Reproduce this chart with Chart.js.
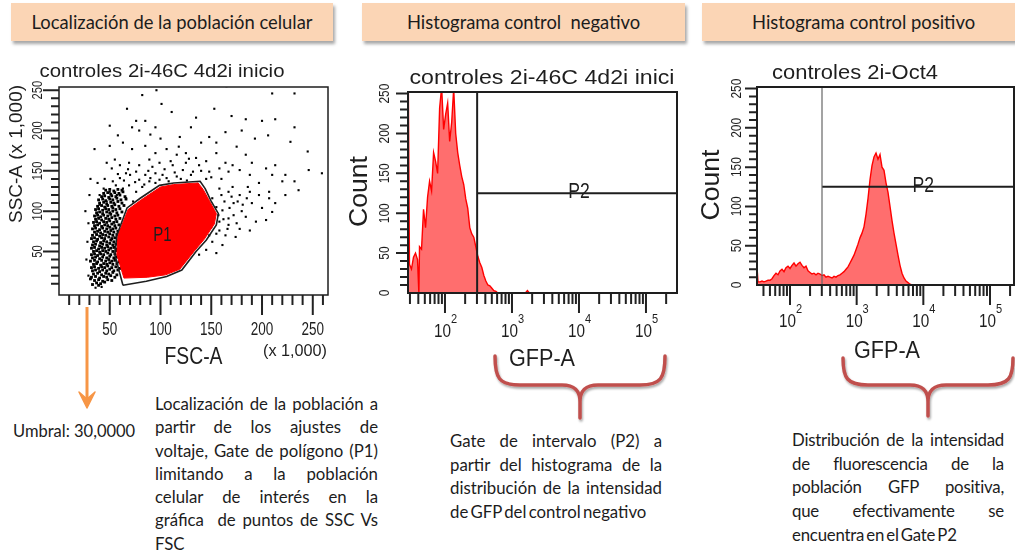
<!DOCTYPE html>
<html lang="es">
<head>
<meta charset="utf-8">
<title>Citometría: controles GFP</title>
<script src="https://cdn.jsdelivr.net/npm/chart.js@4.4.0/dist/chart.umd.min.js"></script>
<style>
  html, body { margin: 0; padding: 0; background: #fff; }
  #page { position: relative; width: 1015px; height: 554px; overflow: hidden; background: #fff;
          font-family: Lato, "Open Sans", sans-serif; color: #1c1c1c; }
  .hdr { position: absolute; top: 3px; height: 38px; background: #fbd5b5;
         box-shadow: 2px 3px 3px rgba(0,0,0,0.35); display: flex; align-items: center;
         justify-content: center; font-size: 18.4px; white-space: nowrap; }
  canvas { position: absolute; z-index: 3; }
  .para { position: absolute; font-size: 16.8px; }
  .para div { text-align: justify; text-align-last: justify; }
  .para div.end { text-align: left; text-align-last: left; word-spacing: -2px; }
  #umbral { position: absolute; left: 13px; top: 420px; font-size: 16.5px; line-height: 23px; white-space: nowrap; }
  #overlay { position: absolute; left: 0; top: 0; z-index: 1; }
</style>
</head>
<body>
<div id="page">
  <svg id="overlay" width="1015" height="554">
    <defs>
      <filter id="soft" x="-20%" y="-20%" width="140%" height="160%">
        <feDropShadow dx="1" dy="2" stdDeviation="1.2" flood-color="#000" flood-opacity="0.35"/>
      </filter>
    </defs>
    <g fill="none" stroke="#c0504d" stroke-width="3.5" stroke-linecap="round" filter="url(#soft)">
      <path d="M495,356 C495,378 499,385 520,385 L562,385 C576,385 580,392 580,402 L580,418 M665,356 C665,378 661,385 640,385 L598,385 C584,385 580,392 580,402"/>
      <path d="M843,358 C843,378 847,385 868,385 L910,385 C924,385 928,392 928,402 L928,416 M1013,358 C1013,378 1009,385 988,385 L946,385 C932,385 928,392 928,402"/>
    </g>
    <g stroke="#f79646" fill="#f79646">
      <line x1="87" y1="307" x2="87" y2="399" stroke-width="3"/>
      <path d="M79,392 L87,408 L95,392 L87,399 Z" stroke-width="1.5" stroke-linejoin="round"/>
    </g>
  </svg>

  <div class="hdr" style="left:11px;width:322px;">Localización de la población celular</div>
  <div class="hdr" style="left:362px;width:323px;">Histograma control&nbsp; negativo</div>
  <div class="hdr" style="left:702px;width:330px;justify-content:flex-start;padding-left:50px;box-sizing:border-box;">Histograma control positivo</div>

  <div id="umbral">Umbral: 30,0000</div>

  <div class="para" style="left:155px;top:392px;width:223px;line-height:23.3px;">
    <div>Localización de la población a</div>
    <div>partir de los ajustes de</div>
    <div>voltaje, Gate de polígono (P1)</div>
    <div>limitando a la población</div>
    <div>celular de interés en la</div>
    <div>gráfica&nbsp; de puntos de SSC Vs</div>
    <div class="end">FSC</div>
  </div>

  <div class="para" style="left:450px;top:429px;width:212px;line-height:23.5px;">
    <div>Gate de intervalo (P2) a</div>
    <div>partir del histograma de la</div>
    <div>distribución de la intensidad</div>
    <div class="end">de GFP del control negativo</div>
  </div>

  <div class="para" style="left:792px;top:428px;width:212px;line-height:23.7px;letter-spacing:-0.2px;">
    <div>Distribución de la intensidad</div>
    <div>de fluorescencia de la</div>
    <div>población GFP positiva,</div>
    <div>que efectivamente se</div>
    <div class="end">encuentra en el Gate P2</div>
  </div>

  <canvas id="dotPlot" width="345" height="320" style="left:0;top:55px;"></canvas>
  <canvas id="negHistogram" width="340" height="330" style="left:345px;top:55px;"></canvas>
  <canvas id="posHistogram" width="325" height="320" style="left:690px;top:55px;"></canvas>
</div>

<script>
// ---------- Dot plot SSC-A vs FSC-A (x 1,000) ----------
const dotPlotTitle = 'controles 2i-46C 4d2i inicio';
const fscTicks = [50, 100, 150, 200, 250];
const sscTicks = [50, 100, 150, 200, 250];

// P1 polygon gate vertices [FSC, SSC]
const p1Gate = [[63,8],[55,46],[57,70],[67,104],[80,116],[99,132],[113,135],[139,137],[144,128],
  [150,112],[157,97],[155,83],[145,64],[135,50],[121,27],[106,19],[86,13],[63,8]];
// region occupied by the gated (red) events
const p1Events = [[64,17],[57,46],[58,70],[68,102],[81,114],[100,130],[113,133],[137,135],[142,127],
  [149,111],[155,97],[153,84],[143,65],[133,50],[119,28],[105,21],[87,18],[64,17]];
const p1Label = [102, 70];

// dense ungated events at low FSC
const debrisEvents = [
  [33,9],[37,11],[41,10],[45,12],[39,8],
  [35,14],[39,15],[43,13],[48,15],[52,14],[31,16],
  [32,18],[36,19],[40,17],[44,19],[47,18],[51,20],[55,18],
  [34,22],[38,23],[42,21],[46,23],[49,22],[53,24],[57,21],
  [33,26],[36,27],[40,25],[43,27],[47,26],[50,28],[54,26],[58,27],
  [32,30],[35,31],[39,29],[42,31],[45,30],[48,32],[52,30],[56,31],[60,29],
  [34,34],[37,35],[41,33],[44,35],[47,34],[50,36],[53,34],[57,35],
  [31,38],[35,39],[38,37],[42,39],[46,38],[49,40],[52,38],[55,39],[59,37],
  [33,42],[36,43],[40,41],[43,43],[47,42],[50,44],[54,42],[57,43],
  [32,46],[35,47],[38,45],[41,47],[44,46],[48,48],[51,46],[55,47],[58,45],
  [34,50],[37,51],[40,49],[43,51],[46,50],[49,52],[53,50],[56,51],
  [32,54],[35,55],[39,53],[42,55],[45,54],[48,56],[51,54],[54,55],[57,53],
  [33,58],[36,59],[40,57],[43,59],[47,58],[50,60],[53,58],[56,59],[59,57],
  [34,62],[37,63],[41,61],[44,63],[47,62],[51,64],[54,62],[58,63],
  [32,66],[35,67],[38,65],[42,67],[45,66],[49,68],[52,66],[55,67],[60,65],
  [33,70],[37,71],[40,69],[43,71],[46,70],[50,72],[53,70],[57,71],
  [35,74],[38,75],[41,73],[45,75],[48,74],[51,76],[54,74],[58,75],
  [33,78],[36,79],[40,77],[43,79],[47,78],[50,80],[53,78],[56,79],[61,77],
  [35,82],[38,83],[42,81],[45,83],[48,82],[52,84],[55,82],[59,83],
  [34,86],[37,87],[40,85],[44,87],[47,86],[50,88],[54,86],[57,87],
  [36,90],[39,91],[42,89],[46,91],[49,90],[52,92],[56,90],[60,91],
  [35,94],[38,95],[41,93],[44,95],[48,94],[51,96],[55,94],[58,95],
  [37,98],[40,99],[43,97],[47,99],[50,98],[53,100],[57,98],[62,99],
  [36,102],[39,103],[43,101],[46,103],[49,102],[53,104],[56,102],[60,103],
  [38,106],[42,107],[45,105],[48,107],[52,106],[55,108],[59,106],[64,107],
  [40,110],[44,111],[47,109],[51,111],[54,110],[58,112],[62,110],
  [39,114],[43,115],[46,113],[50,115],[53,114],[57,116],[61,114],[66,115],
  [42,118],[45,119],[49,117],[52,119],[56,118],[60,120],[65,118],
  [44,122],[48,123],[51,121],[55,123],[59,122],[63,124],
  [46,126],[50,127],[54,125],[58,127],[62,126]
];

// scattered ungated events
const scatteredEvents = [
  [82,244],[96,250],[165,255],[232,246],[210,246],[67,227],[101,233],[111,223],[135,216],[153,227],
  [170,218],[184,214],[200,212],[213,214],[232,204],[85,212],[76,212],[72,204],[50,206],[58,194],
  [79,200],[95,204],[119,192],[130,204],[148,192],[164,198],[180,200],[193,190],[206,194],[228,186],
  [245,174],[246,151],[259,147],[35,177],
  [50,181],[63,185],[72,177],[85,181],[95,172],[106,177],[116,170],[125,172],[135,166],[145,162],
  [155,172],[164,160],[171,157],[184,170],[190,160],[204,153],[213,157],[223,145],[232,137],[236,126],
  [220,137],[210,145],[197,135],[188,145],[178,151],[167,149],[158,153],[148,149],[138,157],[125,160],
  [112,157],[99,160],[89,164],[79,157],[69,160],[60,157],[52,153],[47,160],[55,164],[66,147],
  [76,149],[85,145],[95,147],[106,141],[116,143],[92,155],[122,151],[130,145],
  [158,128],[167,124],[178,120],[188,124],[197,120],[207,116],[213,110],[172,110],[181,108],[190,110],
  [200,104],[210,99],[161,101],[172,95],[184,93],[194,87],[158,87],[167,83],[178,78],[188,76],
  [164,70],[174,68],[155,72],[151,62],[161,58],[145,52],[155,48],[138,46],[167,91],[151,116],
  [155,105],[204,89],[207,124],[223,120],[171,130],[186,130],
  [44,128],[50,124],[57,120],[63,128],[69,132],[76,124],[82,130],[89,137],[53,137],[60,141],
  [66,116],[73,112],[47,112],[40,120],[40,108],[79,139],[95,135],[99,139],[70,145],
  [27,40],[28,62],[29,85],[26,100],[30,120],[29,20],[36,5],[42,6],[31,140],[38,135],[45,140],[56,132],
  [75,136],[84,133],[90,141],[102,145],[108,137],[114,148],[120,140],[126,138],[132,149],[104,152],
  [88,150],[64,138],[58,146],[68,152],[110,162],[140,150],[145,140],[128,165],[118,180],[100,190],
  [90,195],[140,185],[155,185],[175,180],[160,140],[150,142],
  [160,120],[163,112],[168,104],[157,95],[162,90],[150,80],[158,76],[148,70],[166,78],[175,85],
  [180,100],[170,118],[176,112],[185,116]
];

// ---------- GFP-A histograms (x in log10 units) ----------
const countTicks = [0, 50, 100, 150, 200, 250];
const decadeTicks = [2, 3, 4, 5];
const gateLow = 2.48;      // P2 starts near 300
const gateLevel = 125;
const gateLabelX = 4.0;

// negative control: [log10 GFP-A, count]
const negativeCounts = [
  [1.45,300],[1.47,36],[1.50,30],[1.53,45],[1.56,50],[1.59,42],[1.61,0],[1.62,58],[1.65,55],[1.68,105],
  [1.71,82],[1.74,120],[1.77,140],[1.80,128],[1.83,176],[1.86,165],[1.89,150],[1.92,232],[1.95,258],[1.98,205],
  [2.01,224],[2.04,238],[2.07,190],[2.10,214],[2.13,256],[2.16,200],[2.19,176],[2.22,160],[2.25,146],[2.28,136],
  [2.31,118],[2.34,106],[2.37,82],[2.40,74],[2.43,70],[2.46,58],[2.49,46],[2.52,38],[2.55,32],[2.58,22],
  [2.61,15],[2.64,10],[2.67,9],[2.70,6],[2.73,3],[2.76,2],[2.79,0],[3.20,0],[3.23,3],[3.26,0],[5.46,0]
];

// positive control (Oct4): [log10 GFP-A, count]
const positiveCounts = [
  [1.505,23],[1.52,4],[1.55,4],[1.58,5],[1.61,4],[1.64,5],[1.67,6],[1.70,6],[1.73,8],[1.76,12],
  [1.79,15],[1.82,13],[1.85,18],[1.88,20],[1.91,17],[1.94,22],[1.97,24],[2.00,21],[2.03,25],[2.06,28],
  [2.09,24],[2.12,27],[2.15,29],[2.18,25],[2.21,22],[2.24,24],[2.27,18],[2.30,16],[2.33,14],[2.36,15],
  [2.39,13],[2.42,15],[2.45,14],[2.48,12],[2.51,13],[2.54,10],[2.57,11],[2.60,10],[2.63,9],[2.66,11],
  [2.69,10],[2.72,12],[2.75,13],[2.78,15],[2.81,17],[2.84,20],[2.87,23],[2.90,28],[2.93,33],[2.96,38],
  [2.99,45],[3.02,52],[3.05,60],[3.08,66],[3.11,74],[3.14,90],[3.17,110],[3.20,134],[3.23,152],[3.26,163],
  [3.29,168],[3.32,160],[3.35,166],[3.38,150],[3.41,146],[3.44,130],[3.47,118],[3.50,100],[3.53,82],[3.56,66],
  [3.59,52],[3.62,38],[3.65,25],[3.68,15],[3.71,9],[3.74,5],[3.77,3],[3.80,1],[3.83,0],[5.36,0]
];

// ---------- helpers ----------
const INK = '#1e1e1e';
const TICK = '#222222';
const toXY = pairs => pairs.map(([x, y]) => ({ x, y }));
const steps = (from, to, step) => { const out = []; for (let v = from; v <= to; v += step) out.push(v); return out; };

// cytometer-style lettering; width stretches the text to a given length
function cytoText(ctx, text, x, y, size, o = {}) {
  ctx.save();
  ctx.font = `${size}px "Liberation Sans", Arial, sans-serif`;
  let sx = o.sx || 1;
  if (o.width) sx = o.width / ctx.measureText(text).width;
  ctx.translate(x, y);
  if (o.rotate) ctx.rotate(o.rotate);
  ctx.scale(sx, 1);
  ctx.textAlign = o.align || 'center';
  ctx.textBaseline = 'middle';
  ctx.fillStyle = INK;
  ctx.fillText(text, 0, 0);
  ctx.restore();
}

// Tick marks as a line dataset of short separate segments hanging outside the plot.
// plotW/plotH are the plot size in pixels, used to turn a mark length into axis units.
function tickMarks(xRange, yRange, plotW, plotH, xMarks, yMarks) {
  const ux = (xRange[1] - xRange[0]) / plotW;
  const uy = (yRange[1] - yRange[0]) / plotH;
  const pts = [];
  xMarks.forEach(([v, len]) => {
    pts.push({ x: v, y: yRange[0] }, { x: v, y: yRange[0] - len * uy }, { x: v, y: null });
  });
  yMarks.forEach(([v, len]) => {
    pts.push({ x: xRange[0], y: v }, { x: xRange[0] - len * ux, y: v }, { x: xRange[0], y: null });
  });
  return { data: pts, borderColor: TICK, borderWidth: 2, pointRadius: 0, fill: false,
           spanGaps: false, clip: false, tension: 0 };
}

function baseOptions(pad, yWidth, xHeight, xRange, yRange) {
  return {
    responsive: false,
    animation: false,
    devicePixelRatio: 1,
    events: [],
    layout: { padding: pad },
    plugins: { legend: { display: false }, tooltip: { enabled: false }, title: { display: false } },
    scales: {
      x: { type: 'linear', min: xRange[0], max: xRange[1], grid: { display: false },
           border: { display: false }, ticks: { display: false },
           afterFit: s => { s.height = xHeight; } },
      y: { type: 'linear', min: yRange[0], max: yRange[1], grid: { display: false },
           border: { display: false }, ticks: { display: false },
           afterFit: s => { s.width = yWidth; } }
    }
  };
}

// ---------- dot plot ----------
const dotPlotFrame = {
  id: 'dotPlotFrame',
  afterDraw(chart) {
    const { ctx, chartArea: a, scales: { x, y } } = chart;
    ctx.save();
    ctx.strokeStyle = INK;
    ctx.lineWidth = 1.5;
    ctx.strokeRect(a.left, a.top, a.right - a.left, a.bottom - a.top);
    ctx.restore();
    fscTicks.forEach(v => cytoText(ctx, String(v), x.getPixelForValue(v), a.bottom + 35, 18, { sx: 0.75 }));
    sscTicks.forEach(v => cytoText(ctx, String(v), a.left - 21, y.getPixelForValue(v), 14,
      { sx: 0.8, rotate: -Math.PI / 2 }));
    cytoText(ctx, 'P1', x.getPixelForValue(p1Label[0]), y.getPixelForValue(p1Label[1]), 20, { sx: 0.75 });
    cytoText(ctx, dotPlotTitle, a.left + 103, a.top - 15, 18, { width: 245 });
    cytoText(ctx, 'FSC-A', (a.left + a.right) / 2, a.bottom + 62, 24, { width: 58 });
    cytoText(ctx, '(x 1,000)', a.right - 1, a.bottom + 57, 16, { width: 64, align: 'right' });
    cytoText(ctx, 'SSC-A (x 1,000)', 17, a.top + 67, 18, { width: 138, rotate: -Math.PI / 2 });
  }
};

const dotX = [0, 265], dotY = [-4, 254];
new Chart(document.getElementById('dotPlot'), {
  type: 'line',
  data: {
    datasets: [
      { data: toXY(p1Gate), borderColor: INK, borderWidth: 1.6, pointRadius: 0, fill: false, tension: 0 },
      { data: toXY(p1Events), borderColor: '#ff0000', borderWidth: 1, backgroundColor: '#ff0000',
        pointRadius: 0, fill: 'shape', tension: 0 },
      { data: toXY(debrisEvents), showLine: false, pointStyle: 'rect', pointRadius: 2,
        backgroundColor: '#000', borderWidth: 0 },
      { data: toXY(scatteredEvents), showLine: false, pointStyle: 'rect', pointRadius: 1.5,
        backgroundColor: '#000', borderWidth: 0 },
      tickMarks(dotX, dotY, 269, 208,
        steps(10, 260, 10).map(v => [v, v % 50 === 0 ? 20 : 10]),
        steps(10, 250, 10).map(v => [v, v % 50 === 0 ? 16 : 8]))
    ]
  },
  options: baseOptions({ left: 0, top: 32, right: 17, bottom: 0 }, 59, 80, dotX, dotY),
  plugins: [dotPlotFrame]
});

// ---------- histograms ----------
function histogramFrame(cfg) {
  return {
    id: 'histogramFrame',
    afterDraw(chart) {
      const { ctx, chartArea: a, scales: { x, y } } = chart;
      ctx.save();
      ctx.strokeStyle = INK;
      ctx.lineWidth = 2;
      ctx.strokeRect(a.left, a.top, a.right - a.left, a.bottom - a.top);
      ctx.restore();
      decadeTicks.forEach(d => {
        const px = x.getPixelForValue(d);
        cytoText(ctx, '10', px - 2.5, a.bottom + cfg.decadeDy, 18, { sx: 0.85 });
        cytoText(ctx, String(d), px + 9, a.bottom + cfg.decadeDy - 13, 13, { sx: 0.85 });
      });
      countTicks.forEach(v => cytoText(ctx, String(v), a.left + cfg.tickDx, y.getPixelForValue(v), 14,
        { sx: 0.85, rotate: -Math.PI / 2 }));
      cytoText(ctx, cfg.title, a.left + cfg.titleDx, a.top - 14, cfg.titleSize, { width: cfg.titleWidth });
      cytoText(ctx, 'Count', a.left + cfg.countDx, (a.top + a.bottom) / 2 - 1, 25,
        { width: 71, rotate: -Math.PI / 2 });
      cytoText(ctx, 'GFP-A', a.left + cfg.gfpDx, a.bottom + 67, 23, { width: 66 });
      cytoText(ctx, 'P2', x.getPixelForValue(gateLabelX), y.getPixelForValue(gateLevel) - 1, 22, { sx: 0.8 });
    }
  };
}

// log-decade tick positions inside the visible range, as [value, mark length]
function logMarks(range) {
  const out = [];
  for (let d = 1; d <= 5; d++) {
    for (let k = 1; k <= 9; k++) {
      const v = d + Math.log10(k);
      if (v > range[0] + 0.02 && v <= range[1]) out.push([v, k === 1 ? 20 : 11]);
    }
  }
  return out;
}

function histogramChart(id, counts, xRange, plotW, plotH, pad, yWidth, xHeight, gateColor, gateWidth, frame) {
  const yRange = [0, 252];
  return new Chart(document.getElementById(id), {
    type: 'line',
    data: {
      datasets: [
        { data: [{ x: gateLow, y: 0 }, { x: gateLow, y: 260 }], borderColor: gateColor,
          borderWidth: gateWidth, pointRadius: 0, fill: false },
        { data: [{ x: gateLow, y: gateLevel }, { x: xRange[1], y: gateLevel }], borderColor: INK,
          borderWidth: 2, pointRadius: 0, fill: false },
        { data: toXY(counts), borderColor: '#ff0000', borderWidth: 1.4, backgroundColor: '#ff6e6e',
          pointRadius: 0, fill: 'origin', tension: 0 },
        tickMarks(xRange, yRange, plotW, plotH, logMarks(xRange),
          steps(10, 250, 10).map(v => [v, v % 50 === 0 ? 12 : 8]))
      ]
    },
    options: baseOptions(pad, yWidth, xHeight, xRange, yRange),
    plugins: [frame]
  });
}

histogramChart('negHistogram', negativeCounts, [1.448, 5.463], 269, 201,
  { left: 0, top: 37, right: 8, bottom: 0 }, 63, 92, INK, 2,
  histogramFrame({ title: 'controles 2i-46C 4d2i inici', titleSize: 21, titleWidth: 265, titleDx: 134,
                   tickDx: -23, countDx: -48, gfpDx: 134, decadeDy: 39 }));

histogramChart('posHistogram', positiveCounts, [1.505, 5.36], 257, 198,
  { left: 0, top: 32, right: 1, bottom: 0 }, 67, 90, '#666', 1.2,
  histogramFrame({ title: 'controles 2i-Oct4', titleSize: 20, titleWidth: 166, titleDx: 98,
                   tickDx: -20, countDx: -45, gfpDx: 130, decadeDy: 37 }));
</script>
</body>
</html>
